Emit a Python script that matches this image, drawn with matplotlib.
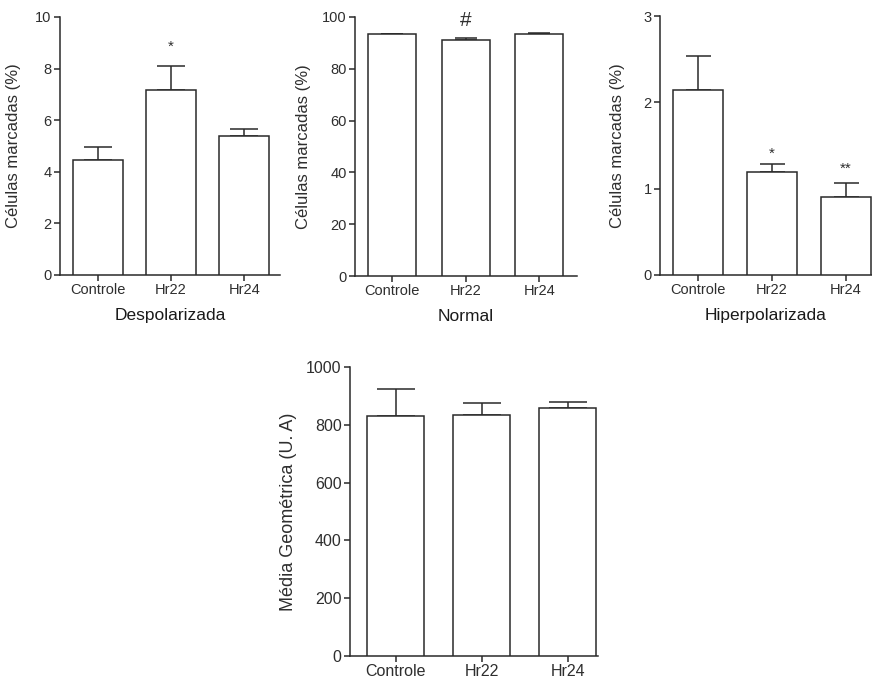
import matplotlib
matplotlib.use("Agg")
import matplotlib.pyplot as plt

plt.rcParams['font.family'] = ['Liberation Sans', 'DejaVu Sans']

W, H = 872, 679
TXT = '#2e2e2e'
LINE = '#2a2a2a'

categories = ['Controle', 'Hr22', 'Hr24']

desp_mean = [4.47, 7.17, 5.38]
desp_sem = [0.51, 0.95, 0.27]
desp_marks = ['', '*', '']
desp_mark_y = [None, 8.85, None]

norm_mean = [93.3, 91.3, 93.4]
norm_sem = [0.0, 0.7, 0.3]
norm_marks = ['', '#', '']
norm_mark_y = [None, 98.5, None]

hip_mean = [2.14, 1.19, 0.90]
hip_sem = [0.40, 0.09, 0.17]
hip_marks = ['', '*', '**']
hip_mark_y = [None, 1.40, 1.23]

geo_mean = [831, 833, 858]
geo_sem = [93, 44, 21]

fig = plt.figure(figsize=(W / 100, H / 100), dpi=100)
fig.patch.set_facecolor('white')


def make_ax(left, top, right, bottom):
    return fig.add_axes([left / W, 1 - bottom / H, (right - left) / W, (bottom - top) / H])


def style(ax, ylim, yticks, xlim, tick_fs, ylabel, ylabel_fs, ylabel_x, xlabel=None, xlabel_fs=12.5):
    ax.set_ylim(*ylim)
    ax.set_xlim(*xlim)
    ax.set_yticks(yticks)
    ax.set_xticks(range(len(categories)))
    ax.set_xticklabels(categories)
    for s in ['top', 'right']:
        ax.spines[s].set_visible(False)
    for s in ['left', 'bottom']:
        ax.spines[s].set_linewidth(1.1)
        ax.spines[s].set_color(LINE)
    ax.tick_params(direction='out', length=4, width=1.1, color=LINE,
                   labelsize=tick_fs, labelcolor=TXT, pad=2)
    ax.set_ylabel(ylabel, fontsize=ylabel_fs, color=TXT)
    ax.yaxis.set_label_coords(ylabel_x, 0.5)
    if xlabel:
        ax.set_xlabel(xlabel, fontsize=xlabel_fs, color='#1a1a1a', labelpad=8)


def bars(ax, mean, sem, width, capsize):
    x = list(range(len(mean)))
    ax.bar(x, mean, width=width, color='white', edgecolor=LINE, linewidth=1.1, zorder=3)
    ax.errorbar(x, mean, yerr=[[0] * len(sem), sem], fmt='none', ecolor=LINE,
                elinewidth=1.1, capsize=capsize, capthick=1.1, zorder=2)


def marks(ax, labels, ys, fs):
    for i, (lab, y) in enumerate(zip(labels, ys)):
        if lab:
            ax.text(i, y, lab, ha='center', va='center', fontsize=fs, color=TXT)


# Panel 1: Despolarizada
ax1 = make_ax(60, 17, 280, 275)
bars(ax1, desp_mean, desp_sem, 0.685, 10)
style(ax1, (0, 10), [0, 2, 4, 6, 8, 10], (-0.52, 2.49), 10.5,
      'Células marcadas (%)', 12, (20.7 - 60) / 220, 'Despolarizada')
marks(ax1, desp_marks, desp_mark_y, 11)

# Panel 2: Normal
ax2 = make_ax(355, 17, 577, 276)
bars(ax2, norm_mean, norm_sem, 0.65, 8)
style(ax2, (0, 100), [0, 20, 40, 60, 80, 100], (-0.50, 2.51), 10.5,
      'Células marcadas (%)', 12, (311 - 355) / 222, 'Normal')
marks(ax2, norm_marks, norm_mark_y, 15)

# Panel 3: Hiperpolarizada
ax3 = make_ax(660, 16, 872, 275)
bars(ax3, hip_mean, hip_sem, 0.68, 9)
style(ax3, (0, 3), [0, 1, 2, 3], (-0.51, 2.35), 10.5,
      'Células marcadas (%)', 12, (625 - 660) / 212, 'Hiperpolarizada')
marks(ax3, hip_marks, hip_mark_y, 11)

# Panel 4: Média Geométrica
ax4 = make_ax(350, 367, 598, 656)
bars(ax4, geo_mean, geo_sem, 0.66, 14)
style(ax4, (0, 1000), [0, 200, 400, 600, 800, 1000], (-0.53, 2.35), 11.5,
      'Média Geométrica (U. A)', 13, (297 - 350) / 248)

fig.savefig('out.png', dpi=100, facecolor='white')
